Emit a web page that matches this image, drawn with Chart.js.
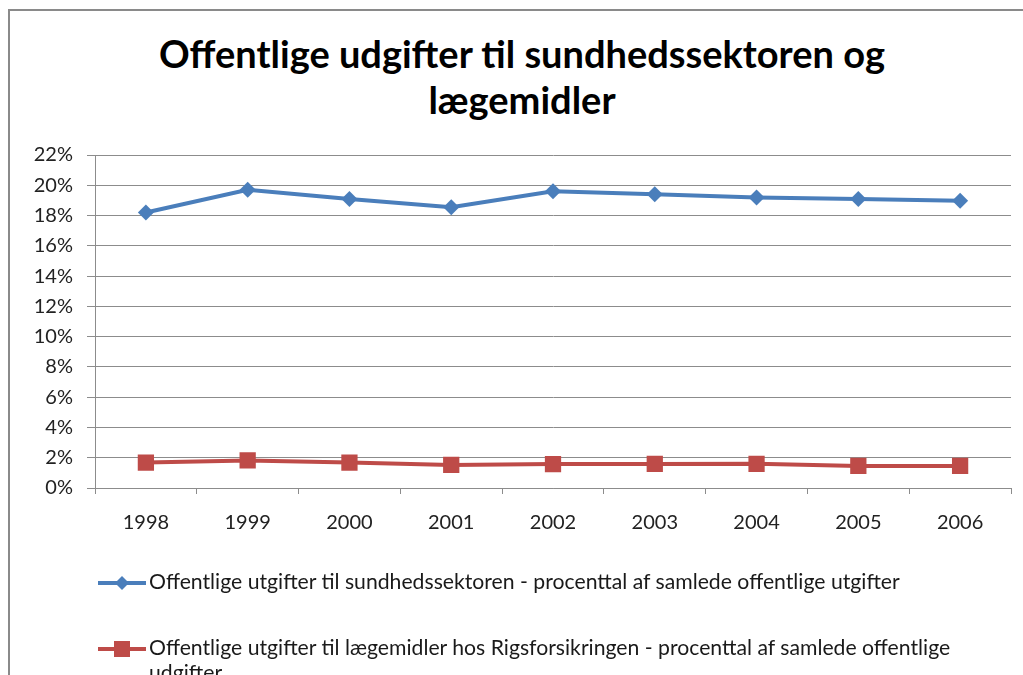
<!DOCTYPE html>
<html>
<head>
<meta charset="utf-8">
<script src="https://cdn.jsdelivr.net/npm/chart.js@4/dist/chart.umd.min.js"></script>
<style>
  html, body { margin: 0; padding: 0; background: #fff; }
  body { width: 1023px; height: 675px; position: relative; overflow: hidden; }
  #frame { position: absolute; left: 8px; top: 9px; width: 1030px; height: 700px; border: 2px solid #8a8a8a; box-sizing: border-box; }
  #wrap { position: absolute; left: 0; top: 0; width: 1023px; height: 675px; }
  #title { position: absolute; left: 72px; top: 30px; width: 900px; text-align: center; font-family: Lato, sans-serif; font-weight: bold; font-size: 38px; line-height: 46px; color: #000; }
  #legend { position: absolute; left: 98px; top: 569px; width: 905px; font-family: Lato, sans-serif; font-size: 21.2px; color: #1a1a1a; }
  .item { position: relative; padding-left: 51px; line-height: 25px; }
  .item canvas { position: absolute; left: 0; top: 0; }
</style>
</head>
<body>
<div id="frame"></div>
<div id="title"></div>
<div id="wrap"><canvas id="c" width="1023" height="675"></canvas></div>
<div id="legend"></div>
<script>
const titleLines = ['Offentlige udgifter til sundhedssektoren og', 'lægemidler'];
const years = ['1998', '1999', '2000', '2001', '2002', '2003', '2004', '2005', '2006'];
const healthLabel = 'Offentlige utgifter til sundhedssektoren - procenttal af samlede offentlige utgifter';
const healthShare = [18.2, 19.7, 19.1, 18.55, 19.6, 19.4, 19.2, 19.1, 18.98];
const drugLabel = 'Offentlige utgifter til lægemidler hos Rigsforsikringen - procenttal af samlede offentlige udgifter';
const drugShare = [1.68, 1.82, 1.68, 1.52, 1.58, 1.59, 1.6, 1.46, 1.46];
const yTicks = [0, 2, 4, 6, 8, 10, 12, 14, 16, 18, 20, 22];

const blue = '#4a7ebb';
const red = '#be4b48';
const grid = '#8c8c8c';
const tickFont = { family: "Lato, sans-serif", size: 20 };

document.getElementById('title').innerHTML = titleLines.join('<br>');

const chart = new Chart(document.getElementById('c'), {
  type: 'line',
  data: {
    labels: years,
    datasets: [
      { label: healthLabel, data: healthShare, borderColor: blue, backgroundColor: blue, borderWidth: 4,
        pointStyle: 'rectRot', pointRadius: 8, pointHoverRadius: 8, pointBorderWidth: 0, tension: 0 },
      { label: drugLabel, data: drugShare, borderColor: red, backgroundColor: red, borderWidth: 4,
        pointStyle: 'rect', pointRadius: 11.5, pointHoverRadius: 11.5, pointBorderWidth: 0, tension: 0 }
    ]
  },
  options: {
    responsive: false,
    animation: false,
    events: [],
    layout: { padding: { left: 0, right: 12, top: 155, bottom: 127 } },
    plugins: {
      legend: { display: false },
      tooltip: { enabled: false },
      title: { display: false }
    },
    scales: {
      x: {
        offset: true,
        grid: { display: true, drawOnChartArea: false, drawTicks: true, tickLength: 6, color: grid, offset: true },
        border: { display: true, color: grid, width: 1 },
        ticks: { color: '#222', font: tickFont, padding: 17 },
        afterFit: (s) => { s.height = 60; }
      },
      y: {
        min: 0, max: 22,
        afterBuildTicks: (s) => { s.ticks = yTicks.map(v => ({ value: v })); },
        grid: { color: grid, lineWidth: 1, drawTicks: true, tickLength: 8 },
        border: { display: true, color: grid, width: 1 },
        ticks: { color: '#222', font: tickFont, padding: 14, callback: (v) => v + '%' },
        afterFit: (s) => { s.width = 95; }
      }
    }
  }
});

// HTML legend built from the datasets
const legend = document.getElementById('legend');
chart.data.datasets.forEach((ds, i) => {
  const div = document.createElement('div');
  div.className = 'item';
  div.style.marginBottom = i === 0 ? '41px' : '0';
  const cv = document.createElement('canvas');
  cv.width = 50; cv.height = 26;
  const ctx = cv.getContext('2d');
  ctx.strokeStyle = ds.borderColor; ctx.lineWidth = 4;
  ctx.beginPath(); ctx.moveTo(0, 14); ctx.lineTo(48, 14); ctx.stroke();
  ctx.fillStyle = ds.backgroundColor;
  if (ds.pointStyle === 'rectRot') {
    ctx.beginPath(); ctx.moveTo(24, 7); ctx.lineTo(31, 14); ctx.lineTo(24, 21); ctx.lineTo(17, 14); ctx.closePath(); ctx.fill();
  } else {
    ctx.fillRect(16, 6, 16, 16);
  }
  div.appendChild(cv);
  div.appendChild(document.createTextNode(ds.label));
  legend.appendChild(div);
});
</script>
</body>
</html>
